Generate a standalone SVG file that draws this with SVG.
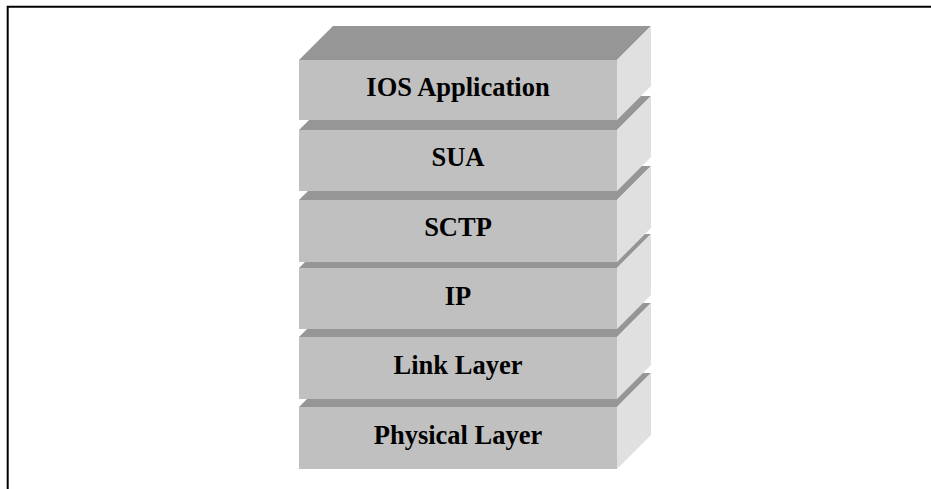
<svg xmlns="http://www.w3.org/2000/svg" width="931" height="489" viewBox="0 0 931 489">
<style>
.top{fill:#969696}
.side{fill:#E0E0E0}
.front{fill:#C0C0C0}
.lbl{font-family:"Liberation Serif","Times New Roman",serif;font-weight:bold;font-size:26.5px;fill:#000;text-anchor:middle}
.frame{fill:none;stroke:#000;stroke-width:2}
</style>
<rect width="931" height="489" fill="#fff"/>
<path class="frame" d="M7.7,489 V6.7 H931"/>
<g id="connectors"></g>
<g id="layer-physical">
<polygon class="top" points="299,407 617,407 651,373 333,373"/>
<polygon class="side" points="617,407 651,373 651,435 617,469"/>
<rect class="front" x="299" y="407" width="318" height="62"/>
<text class="lbl" x="458" y="444">Physical Layer</text>
</g>
<g id="layer-link">
<polygon class="top" points="299,337 617,337 651,303 333,303"/>
<polygon class="side" points="617,337 651,303 651,365 617,399"/>
<rect class="front" x="299" y="337" width="318" height="62"/>
<text class="lbl" x="458" y="374">Link Layer</text>
</g>
<g id="layer-ip">
<polygon class="top" points="299,268 617,268 651,234 333,234"/>
<polygon class="side" points="617,268 651,234 651,295 617,329"/>
<rect class="front" x="299" y="268" width="318" height="61"/>
<text class="lbl" x="458" y="305">IP</text>
</g>
<g id="layer-sctp">
<polygon class="top" points="299,200 617,200 651,166 333,166"/>
<polygon class="side" points="617,200 651,166 651,228 617,262"/>
<rect class="front" x="299" y="200" width="318" height="62"/>
<text class="lbl" x="458" y="236">SCTP</text>
</g>
<g id="layer-sua">
<polygon class="top" points="299,130 617,130 651,96 333,96"/>
<polygon class="side" points="617,130 651,96 651,157 617,191"/>
<rect class="front" x="299" y="130" width="318" height="61"/>
<text class="lbl" x="458" y="166">SUA</text>
</g>
<g id="layer-ios-application">
<polygon class="top" points="299,60 617,60 651,26 333,26"/>
<polygon class="side" points="617,60 651,26 651,86 617,120"/>
<rect class="front" x="299" y="60" width="318" height="60"/>
<text class="lbl" x="458" y="96">IOS Application</text>
</g>
</svg>
